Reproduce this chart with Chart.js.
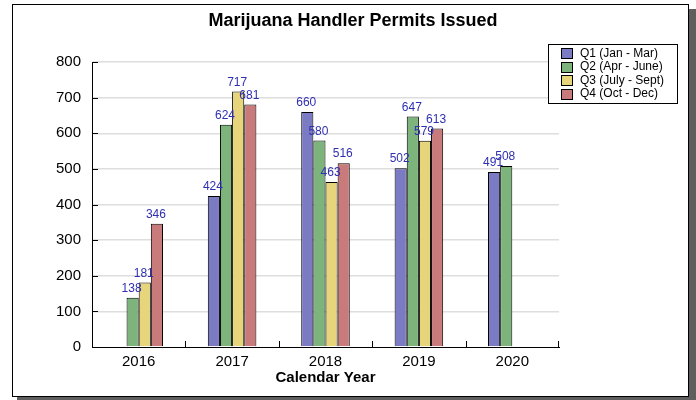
<!DOCTYPE html>
<html>
<head>
<meta charset="utf-8">
<script src="https://cdn.jsdelivr.net/npm/chart.js@4"></script>
<style>
  html, body { margin: 0; padding: 0; background: #fff; }
  #wrap { width: 696px; height: 400px; }
</style>
</head>
<body>
<div id="wrap"><canvas id="permits"></canvas></div>
<script>
(function(Chart) {
    const chartTitle = 'Marijuana Handler Permits Issued';
    const years = ['2016', '2017', '2018', '2019', '2020'];
    const q1 = [null, 424, 660, 502, 491];
    const q2 = [138, 624, 580, 647, 508];
    const q3 = [181, 717, 463, 579, null];
    const q4 = [346, 681, 516, 613, null];
    const quarterNames = ['Q1 (Jan - Mar)', 'Q2 (Apr - June)', 'Q3 (July - Sept)', 'Q4 (Oct - Dec)'];
    const colors = ['#7b7bc3', '#7cb47c', '#e6d57a', '#c97b7b'];

    const fontFamily = '"Liberation Sans", Arial, sans-serif';

    function dataset(i, values) {
        return {
            label: quarterNames[i],
            data: values,
            backgroundColor: colors[i],
            borderColor: '#000',
            borderWidth: 1,
            borderSkipped: 'bottom'
        };
    }

    // frame with drop shadow behind the whole chart, plus the title
    const framePlugin = {
        id: 'frame',
        beforeDraw(chart) {
            const ctx = chart.ctx;
            ctx.save();
            ctx.fillStyle = '#fff';
            ctx.fillRect(0, 0, chart.width, chart.height);
            ctx.fillStyle = '#5e5e5e';
            ctx.fillRect(17, 9, 679, 391);
            ctx.fillStyle = '#fff';
            ctx.fillRect(12, 4, 676, 392);
            ctx.strokeStyle = '#000';
            ctx.lineWidth = 1;
            ctx.strokeRect(12.5, 4.5, 676, 392);
            ctx.fillStyle = '#000';
            ctx.font = 'bold 18px ' + fontFamily;
            ctx.textAlign = 'center';
            ctx.textBaseline = 'middle';
            ctx.fillText(chartTitle, 353, 21);
            ctx.restore();
        }
    };

    // tick marks pointing into the plot
    const tickPlugin = {
        id: 'innerTicks',
        afterDraw(chart) {
            const ctx = chart.ctx;
            const y = chart.scales.y;
            const x = chart.scales.x;
            const area = chart.chartArea;
            ctx.save();
            ctx.strokeStyle = '#000';
            ctx.lineWidth = 1;
            ctx.beginPath();
            y.ticks.forEach(t => {
                const py = Math.round(y.getPixelForValue(t.value)) + 0.5;
                ctx.moveTo(area.left, py);
                ctx.lineTo(area.left + 6, py);
            });
            for (let i = 1; i <= years.length; i++) {
                const px = Math.round((x.getPixelForValue(i - 1) + x.getPixelForValue(Math.min(i, years.length - 1))) / 2) + 0.5;
                const edge = i === years.length ? Math.round(area.right) - 0.5 : px;
                ctx.moveTo(edge, area.bottom);
                ctx.lineTo(edge, area.bottom - 6);
            }
            ctx.stroke();
            ctx.restore();
        }
    };

    // value labels above every bar, drawn over all bars
    const labelPlugin = {
        id: 'valueLabels',
        afterDatasetsDraw(chart) {
            const ctx = chart.ctx;
            ctx.save();
            ctx.font = '12px ' + fontFamily;
            ctx.fillStyle = '#2f2fb2';
            ctx.textAlign = 'center';
            ctx.textBaseline = 'bottom';
            chart.data.datasets.forEach((ds, i) => {
                chart.getDatasetMeta(i).data.forEach((bar, k) => {
                    if (ds.data[k] === null) return;
                    ctx.fillText(String(ds.data[k]), bar.x - 1, bar.y - 3);
                });
            });
            ctx.restore();
        }
    };

    const legendPlugin = {
        id: 'boxLegend',
        afterDraw(chart) {
            const ctx = chart.ctx;
            ctx.save();
            ctx.fillStyle = '#fff';
            ctx.fillRect(548, 44, 129, 59);
            ctx.strokeStyle = '#000';
            ctx.lineWidth = 1;
            ctx.strokeRect(548.5, 44.5, 129, 59);
            ctx.font = '12px ' + fontFamily;
            ctx.textBaseline = 'middle';
            chart.data.datasets.forEach((ds, i) => {
                const cy = 53 + i * 13.5;
                ctx.fillStyle = ds.backgroundColor;
                ctx.fillRect(561, Math.round(cy - 5), 11, 10);
                ctx.strokeRect(561.5, Math.round(cy - 5) + 0.5, 11, 10);
                ctx.fillStyle = '#000';
                ctx.fillText(ds.label, 580, cy + 0.5);
            });
            ctx.restore();
        }
    };

    const config = {
        type: 'bar',
        data: {
            labels: years,
            datasets: [dataset(0, q1), dataset(1, q2), dataset(2, q3), dataset(3, q4)]
        },
        options: {
            responsive: true,
            maintainAspectRatio: false,
            animation: false,
            categoryPercentage: 0.52,
            barPercentage: 1,
            layout: {
                padding: { left: 0, right: 137, top: 62, bottom: 0 }
            },
            plugins: {
                legend: { display: false },
                tooltip: { enabled: false },
                title: { display: false }
            },
            scales: {
                x: {
                    grid: { display: false, drawTicks: false },
                    border: { display: true, color: '#000', width: 1 },
                    ticks: {
                        color: '#000',
                        padding: 6,
                        font: { family: fontFamily, size: 15 }
                    },
                    title: {
                        display: true,
                        text: 'Calendar Year',
                        color: '#000',
                        font: { family: fontFamily, size: 15, weight: 'bold' },
                        padding: { top: 0, bottom: 13 }
                    },
                    afterFit(scale) { scale.height = 53; }
                },
                y: {
                    min: 0,
                    max: 800,
                    grid: {
                        drawTicks: false,
                        color: ctx => (ctx.tick && ctx.tick.value % 100 === 0 && ctx.tick.value > 0) ? '#dedede' : 'rgba(0,0,0,0)',
                        lineWidth: 1.5
                    },
                    border: { display: true, color: '#000', width: 1 },
                    ticks: {
                        stepSize: 50,
                        color: '#000',
                        padding: 11,
                        font: { family: fontFamily, size: 15 },
                        callback: v => (v % 100 === 0 ? v : '')
                    },
                    afterFit(scale) { scale.width = 92; }
                }
            }
        },
        plugins: [framePlugin, labelPlugin, tickPlugin, legendPlugin]
    };

    const canvas = document.getElementById('permits');
    const chart = new Chart(canvas.getContext('2d'), config);
})(Chart);
</script>
</body>
</html>
